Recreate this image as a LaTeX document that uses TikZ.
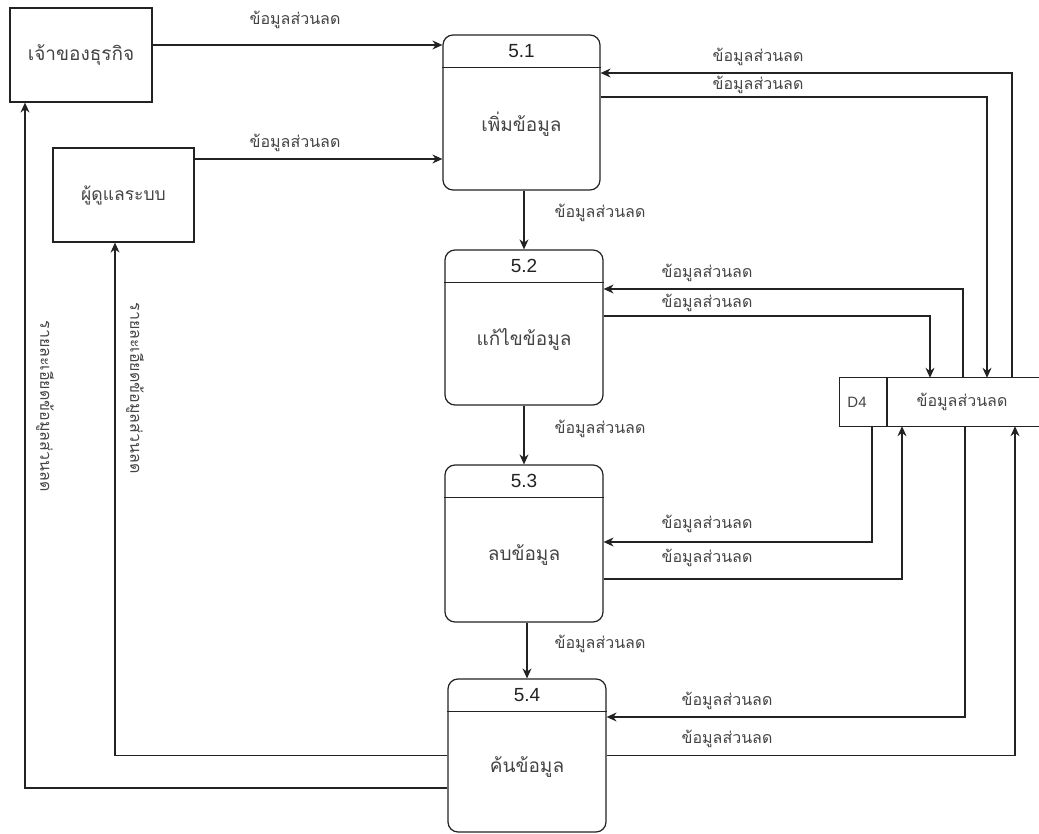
\documentclass[tikz,border=0pt]{standalone}
\usepackage{fontspec}
\setmainfont{Liberation Sans}
\newfontfamily\thaifont[Script=Thai]{Loma}
\usetikzlibrary{arrows.meta}
\definecolor{ln}{HTML}{222222}
\definecolor{tx}{HTML}{444444}
\tikzset{
  ent/.style={draw=ln, line width=1.2pt, rectangle, inner sep=0pt, text=tx},
  proc/.style={draw=ln, line width=1.2pt, rectangle, rounded corners=10pt, inner sep=0pt, minimum width=157pt},
  num/.style={font=\fontsize{19}{22}\selectfont, text=ln, inner sep=0pt},
  ptxt/.style={font=\thaifont\fontsize{19}{22}\selectfont, text=tx, inner sep=0pt},
  lbl/.style={font=\thaifont\fontsize{16}{18}\selectfont, text=tx, inner sep=0pt},
  arr/.style={draw=ln, line width=1.2pt, -{Stealth[length=10pt,width=9pt]}},
}
\begin{document}
\begin{tikzpicture}[x=1pt,y=-1pt]
\useasboundingbox (0,0) rectangle (1039,834);
% external entities
\node[ent, minimum width=142pt, minimum height=94pt, font=\thaifont\fontsize{19}{22}\selectfont] (e1) at (81,55) {เจ้าของธุรกิจ};
\node[ent, minimum width=141pt, minimum height=94pt, font=\thaifont\fontsize{17.5}{20}\selectfont] (e2) at (123.5,195) {ผู้ดูแลระบบ};
% processes
\node[proc, minimum height=155pt] (p1) at (521.5,112.5) {};
\node[proc, minimum width=158pt, minimum height=155pt] (p2) at (524,327.5) {};
\node[proc, minimum width=158pt, minimum height=157pt] (p3) at (524,543.5) {};
\node[proc, minimum width=158pt, minimum height=153pt] (p4) at (527,755.5) {};
\foreach \p/\n/\t in {p1/5.1/เพิ่มข้อมูล, p2/5.2/แก้ไขข้อมูล, p3/5.3/ลบข้อมูล, p4/5.4/ค้นข้อมูล}{
  \draw[ln, line width=1.2pt] ([yshift=-33pt]\p.north west) -- ([yshift=-33pt]\p.north east);
  \node[num] (\p n) at ([yshift=-17pt]\p.north) {\n};
  \node[ptxt] (\p t) at ([yshift=-12pt]\p.center) {\t};
}
% data store
\node[minimum width=200pt, minimum height=48pt, inner sep=0pt] (d4) at (940,402) {};
\draw[ln, line width=1.2pt] (d4.north east) -- (d4.north west) -- (d4.south west) -- (d4.south east);
\draw[ln, line width=1.2pt] (d4.north -| 887,0) -- (d4.south -| 887,0);
\node[font=\fontsize{15}{17}\selectfont, text=tx, inner sep=0pt] (d4a) at (857,402) {D4};
\node[lbl] (d4b) at (962,402) {ข้อมูลส่วนลด};
% connectors
\draw[arr] ([yshift=10pt]e1.east) -- ([yshift=10pt]e1.east -| p1.west);
\draw[arr] ([yshift=36pt]e2.east) -- ([yshift=36pt]e2.east -| p1.west);
\draw[arr] (p1.south -| p2) -- (p2.north);
\draw[arr] (p2.south) -- (p3.north);
\draw[arr] (p3.south -| p4) -- (p4.north);
\draw[arr] (d4.north -| 1012,0) |- ([yshift=39.5pt]p1.east);
\draw[arr] ([yshift=15.5pt]p1.east) -| (d4.north -| 987,0);
\draw[arr] (d4.north -| 963,0) |- ([yshift=38.5pt]p2.east);
\draw[arr] ([yshift=11.5pt]p2.east) -| (d4.north -| 930,0);
\draw[arr] (d4.south -| 872,0) |- ([yshift=1.5pt]p3.east);
\draw[arr] ([yshift=-35.5pt]p3.east) -| (d4.south -| 902,0);
\draw[arr] (d4.south -| 965,0) |- ([yshift=38.5pt]p4.east);
\draw[arr] (p4.east) -| (d4.south -| 1015,0);
\draw[arr] (p4.west) -| (e2.south -| 115,0);
\draw[arr] ([yshift=-32.5pt]p4.west) -| (e1.south -| 25,0);
% labels
\node[lbl] (l1) at (295,20) {ข้อมูลส่วนลด};
\node[lbl] (l2) at (295,143) {ข้อมูลส่วนลด};
\node[lbl] (l3) at (758,57) {ข้อมูลส่วนลด};
\node[lbl] (l4) at (758,85) {ข้อมูลส่วนลด};
\node[lbl] (l5) at (600,213) {ข้อมูลส่วนลด};
\node[lbl] (l6) at (707,273) {ข้อมูลส่วนลด};
\node[lbl] (l7) at (707,303) {ข้อมูลส่วนลด};
\node[lbl] (l8) at (600,429) {ข้อมูลส่วนลด};
\node[lbl] (l9) at (707,524) {ข้อมูลส่วนลด};
\node[lbl] (l10) at (707,558) {ข้อมูลส่วนลด};
\node[lbl] (l11) at (600,644) {ข้อมูลส่วนลด};
\node[lbl] (l12) at (727,701) {ข้อมูลส่วนลด};
\node[lbl] (l13) at (727,739) {ข้อมูลส่วนลด};
\node[lbl, rotate=-90] (l14) at (45,406) {รายละเอียดข้อมูลส่วนลด};
\node[lbl, rotate=-90] (l15) at (135,388) {รายละเอียดข้อมูลส่วนลด};
\end{tikzpicture}
\end{document}
